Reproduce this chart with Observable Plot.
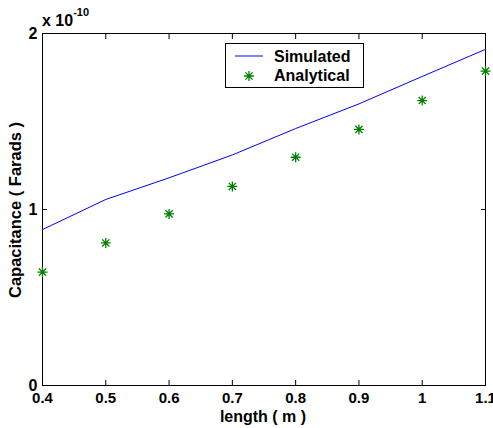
<!DOCTYPE html>
<html>
<head>
<meta charset="utf-8">
<script src="https://cdn.jsdelivr.net/npm/d3@7"></script>
<script src="https://cdn.jsdelivr.net/npm/@observablehq/plot@0.6"></script>
<style>
  html, body { margin: 0; padding: 0; background: #fff; }
  #wrap { position: relative; width: 493px; height: 428px; }
  #wrap svg { position: absolute; left: 0; top: 0; }
</style>
</head>
<body>
<div id="wrap"></div>
<script>
// Data (capacitance in units of 1e-10 F)
const lengths = [0.4, 0.5, 0.6, 0.7, 0.8, 0.9, 1.0, 1.1];
const simulated = [0.886, 1.057, 1.18, 1.31, 1.46, 1.60, 1.756, 1.91];
const analytical = [0.644, 0.81, 0.975, 1.131, 1.297, 1.455, 1.619, 1.786];
const xTicks = [0.4, 0.5, 0.6, 0.7, 0.8, 0.9, 1.0, 1.1];
const xTickLabels = ["0.4", "0.5", "0.6", "0.7", "0.8", "0.9", "1", "1.1"];
const yTicks = [0, 1, 2];
const yTickLabels = ["0", "1", "2"];
const seriesNames = ["Simulated", "Analytical"];

const simData = lengths.map((x, i) => ({x, y: simulated[i]}));
const anaData = lengths.map((x, i) => ({x, y: analytical[i]}));

const font = "'Liberation Sans', Arial, Helvetica, sans-serif";
const W = 493, H = 428;
const mL = 42, mR = 8, mT = 33, mB = 43;

// MATLAB-like '*' marker: plus + x
const star = {
  draw(ctx, size) {
    const r = Math.sqrt(size / Math.PI);
    const d = r * 0.72;
    ctx.moveTo(0, -r); ctx.lineTo(0, r);
    ctx.moveTo(-r, 0); ctx.lineTo(r, 0);
    ctx.moveTo(-d, -d); ctx.lineTo(d, d);
    ctx.moveTo(-d, d); ctx.lineTo(d, -d);
  }
};

const xFmt = d => xTickLabels[xTicks.indexOf(d)];
const yFmt = d => yTickLabels[yTicks.indexOf(d)];

const chart = Plot.plot({
  width: W, height: H,
  marginLeft: mL, marginRight: mR, marginTop: mT, marginBottom: mB,
  style: {fontFamily: font, fontSize: "16px", fontWeight: "bold", color: "#000", background: "#fff", overflow: "visible"},
  x: {domain: [0.4, 1.1], axis: null},
  y: {domain: [0, 2], axis: null},
  marks: [
    Plot.frame({stroke: "#000", strokeWidth: 1}),
    // inward ticks, all four sides
    Plot.axisX(xTicks, {anchor: "bottom", label: null, tickSize: -5, tickFormat: () => "", stroke: "#000"}),
    Plot.axisX(xTicks, {anchor: "top", label: null, tickSize: -5, tickFormat: () => "", stroke: "#000"}),
    Plot.axisY(yTicks, {anchor: "left", label: null, tickSize: -5, tickFormat: () => "", stroke: "#000"}),
    Plot.axisY(yTicks, {anchor: "right", label: null, tickSize: -5, tickFormat: () => "", stroke: "#000"}),
    // tick labels
    Plot.axisX(xTicks, {anchor: "bottom", label: null, tickSize: 0, tickPadding: 7, tickFormat: xFmt, fill: "#000", fontSize: 15, fontWeight: "bold"}),
    Plot.axisY(yTicks, {anchor: "left", label: null, tickSize: 0, tickPadding: 5, tickFormat: yFmt, fill: "#000", fontSize: 16, fontWeight: "bold"}),
    Plot.line(simData, {x: "x", y: "y", stroke: "#0000ff", strokeWidth: 1}),
    Plot.dot(anaData, {x: "x", y: "y", symbol: star, r: 5, stroke: "#008000", strokeWidth: 1.3})
  ]
});
document.getElementById("wrap").appendChild(chart);

// Overlay: titles, exponent, legend
const ov = d3.select("#wrap").append("svg")
  .attr("width", W).attr("height", H)
  .style("pointer-events", "none")
  .attr("font-family", font).attr("font-weight", "bold").attr("fill", "#000");

ov.append("text").attr("x", 263).attr("y", 422).attr("text-anchor", "middle")
  .attr("font-size", 16).text("length ( m )");

ov.append("text").attr("transform", "translate(21,210) rotate(-90)")
  .attr("text-anchor", "middle").attr("font-size", 16.5).text("Capacitance ( Farads )");

const ex = ov.append("text").attr("x", 42).attr("y", 26).attr("font-size", 16);
ex.append("tspan").text("x 10");
ex.append("tspan").attr("font-size", 11).attr("dy", -10).text("-10");

// legend
const lg = ov.append("g");
lg.append("rect").attr("x", 225.5).attr("y", 43.5).attr("width", 138).attr("height", 44)
  .attr("fill", "#fff").attr("stroke", "#000").attr("stroke-width", 1);
lg.append("line").attr("x1", 235).attr("x2", 263).attr("y1", 56).attr("y2", 56)
  .attr("stroke", "#0000ff").attr("stroke-width", 1);
lg.append("path").attr("transform", "translate(249,76)")
  .attr("d", d3.symbol(star, Math.PI * 25)())
  .attr("stroke", "#008000").attr("stroke-width", 1.3).attr("fill", "none");
lg.append("text").attr("x", 274).attr("y", 62).attr("font-size", 16).text(seriesNames[0]);
lg.append("text").attr("x", 274).attr("y", 81).attr("font-size", 16).text(seriesNames[1]);
</script>
</body>
</html>
